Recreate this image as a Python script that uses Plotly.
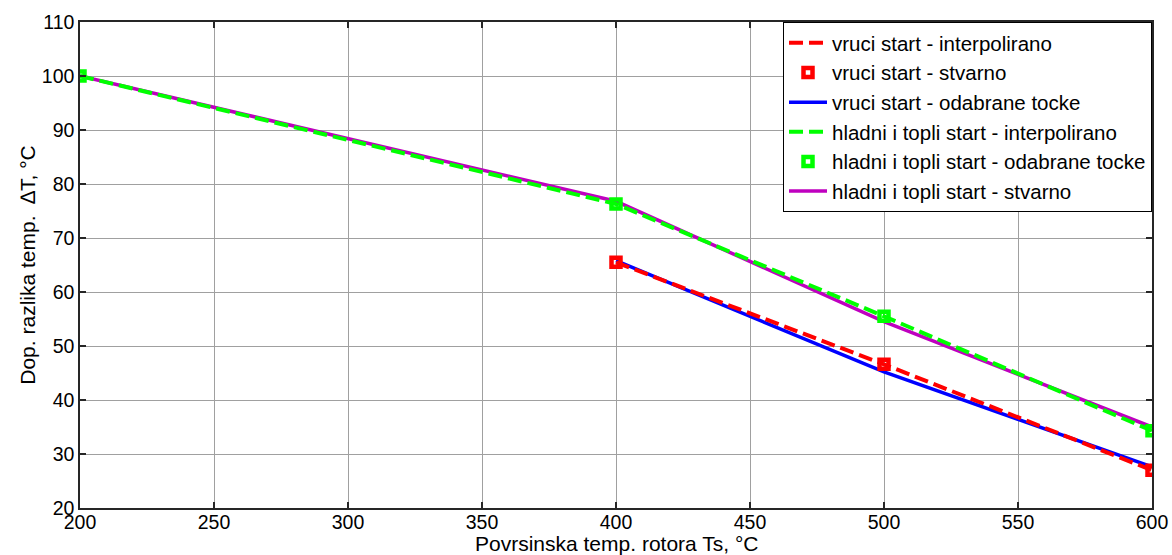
import plotly.graph_objects as go

# Data
x_hot = [400, 500, 600]
hot_interp = [65.5, 46.6, 27.0]
hot_real = [65.5, 46.6, 27.0]
hot_sel = [65.8, 45.2, 27.6]

x_cold = [200, 400, 500, 600]
cold_interp = [100.0, 76.3, 55.5, 34.3]
cold_sel = [100.0, 76.3, 55.5, 34.3]
cold_real = [100.0, 76.8, 54.5, 35.0]

x_ticks = [200, 250, 300, 350, 400, 450, 500, 550, 600]
y_ticks = [20, 30, 40, 50, 60, 70, 80, 90, 100, 110]

x_title = "Povrsinska temp. rotora Ts, °C"
y_title = "Dop. razlika temp.  ∆T, °C"

FONT = "Liberation Sans, Arial, sans-serif"
FS_TICK = 19.5
FS_TITLE = 21
FS_LEG = 20.5

fig = go.Figure()

# drawing order (bottom to top); legend order via legendrank
fig.add_trace(go.Scatter(x=x_hot, y=hot_sel, mode="lines", name="vruci start - odabrane tocke",
                         line=dict(color="#0000ff", width=3.5), legendrank=3))
fig.add_trace(go.Scatter(x=x_cold, y=cold_real, mode="lines", name="hladni i topli start - stvarno",
                         line=dict(color="#bf00bf", width=3.5), legendrank=6))
fig.add_trace(go.Scatter(x=x_hot, y=hot_interp, mode="lines", name="vruci start - interpolirano",
                         line=dict(color="#ff0000", width=4, dash="14px,6px"), legendrank=1))
fig.add_trace(go.Scatter(x=x_cold, y=cold_interp, mode="lines", name="hladni i topli start - interpolirano",
                         line=dict(color="#00ff00", width=4, dash="14px,6px"), legendrank=4))
fig.add_trace(go.Scatter(x=x_hot, y=hot_real, mode="markers", name="vruci start - stvarno",
                         marker=dict(symbol="square-open", size=9, color="#ff0000", line=dict(width=4.5, color="#ff0000")),
                         legendrank=2))
fig.add_trace(go.Scatter(x=x_cold, y=cold_sel, mode="markers", name="hladni i topli start - odabrane tocke",
                         marker=dict(symbol="square-open", size=9, color="#00ff00", line=dict(width=4.5, color="#00ff00")),
                         legendrank=5))

axis_common = dict(
    showline=True, linecolor="#262626", linewidth=1.5, mirror="ticks",
    ticks="inside", ticklen=6, tickcolor="#262626", tickwidth=1.5,
    showgrid=True, gridcolor="#a0a0a0", gridwidth=1, zeroline=False,
    tickfont=dict(family=FONT, size=FS_TICK, color="black"),
    automargin=False,
)

fig.update_xaxes(range=[200, 600], tickvals=x_ticks, ticktext=[str(v) for v in x_ticks],
                 ticklabelstandoff=-4, **axis_common)
fig.update_yaxes(range=[20, 110], tickvals=y_ticks, ticktext=[str(v) for v in y_ticks],
                 title=dict(text=y_title, font=dict(family=FONT, size=FS_TITLE, color="black"),
                            standoff=0),
                 **axis_common)

# x axis title placed just under the tick labels, as in the reference
fig.add_annotation(text=x_title, xref="paper", yref="paper", x=0.5, y=-0.046,
                   xanchor="center", yanchor="top", showarrow=False,
                   font=dict(family=FONT, size=FS_TITLE, color="black"))

fig.update_layout(
    width=1172, height=555,
    margin=dict(l=80, r=20, t=22, b=47),
    plot_bgcolor="white", paper_bgcolor="white",
    font=dict(family=FONT, size=FS_TITLE, color="black"),
    legend=dict(x=1, y=1, xanchor="right", yanchor="top",
                bgcolor="white", bordercolor="black", borderwidth=1,
                font=dict(family=FONT, size=FS_LEG, color="black"),
                tracegroupgap=0, itemwidth=38),
    showlegend=True,
)

# remove the default page margin so the figure fills the window exactly
fig.write_html("out.html", config={"displayModeBar": False},
               post_script="document.body.style.margin='0';document.body.style.overflow='hidden';")
